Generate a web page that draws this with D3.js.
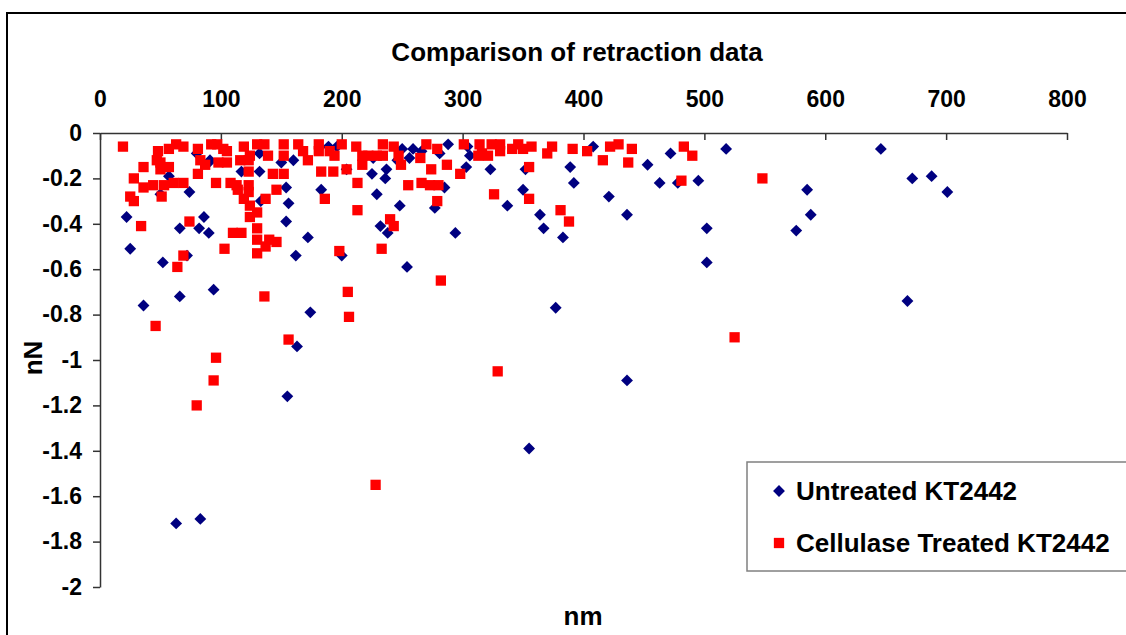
<!DOCTYPE html>
<html>
<head>
<meta charset="utf-8">
<script src="https://cdn.jsdelivr.net/npm/d3@7"></script>
<style>
  body { margin: 0; background: #fff; }
  text { font-family: "Liberation Sans", Arial, sans-serif; font-weight: bold; fill: #000; }
</style>
</head>
<body>
<div id="chart-area"></div>
<script>
// tick labels
const xTicks = [0, 100, 200, 300, 400, 500, 600, 700, 800];
const yTicks = [0, -0.2, -0.4, -0.6, -0.8, -1, -1.2, -1.4, -1.6, -1.8, -2];
const seriesNames = ["Untreated KT2442", "Cellulase Treated KT2442"];

// [nm, nN]
const untreated = [
  [22,-0.37],[25,-0.51],[36,-0.76],[50,-0.27],[52,-0.57],[57,-0.19],[66,-0.42],[66,-0.72],
  [72,-0.54],[74,-0.26],[80,-0.09],[82,-0.42],[86,-0.37],[90,-0.44],[90,-0.13],[94,-0.69],
  [63,-1.72],[83,-1.70],[117,-0.17],[132,-0.17],[132,-0.09],[133,-0.30],[150,-0.13],[154,-0.24],
  [156,-0.31],[154,-0.39],[155,-1.16],[163,-0.94],[160,-0.12],[162,-0.54],[172,-0.46],[174,-0.79],
  [183,-0.25],[189,-0.06],[196,-0.06],[204,-0.16],[225,-0.18],[226,-0.11],[229,-0.27],[232,-0.41],
  [237,-0.16],[236,-0.20],[238,-0.44],[246,-0.12],[250,-0.07],[248,-0.32],[254,-0.59],[256,-0.11],
  [259,-0.07],[266,-0.08],[200,-0.54],[277,-0.33],[281,-0.09],[285,-0.24],[288,-0.05],[294,-0.44],
  [304,-0.06],[303,-0.15],[306,-0.10],[323,-0.16],[337,-0.32],[350,-0.25],[352,-0.16],[355,-1.39],
  [364,-0.36],[367,-0.42],[377,-0.77],[383,-0.46],[389,-0.15],[392,-0.22],[408,-0.06],[421,-0.28],
  [436,-0.36],[436,-1.09],[453,-0.14],[463,-0.22],[472,-0.09],[478,-0.22],[495,-0.21],[502,-0.42],
  [502,-0.57],[518,-0.07],[576,-0.43],[585,-0.25],[588,-0.36],[646,-0.07],[668,-0.74],[672,-0.20],
  [688,-0.19],[701,-0.26],[91,-0.12]
];

const cellulase = [
  [19,-0.06],[36,-0.15],[28,-0.20],[25,-0.28],[28,-0.30],[36,-0.24],[44,-0.23],[34,-0.41],
  [48,-0.08],[50,-0.13],[50,-0.16],[57,-0.07],[57,-0.15],[63,-0.05],[69,-0.06],[53,-0.23],
  [61,-0.22],[69,-0.22],[51,-0.28],[74,-0.39],[69,-0.54],[64,-0.59],[81,-0.07],[83,-0.12],
  [81,-0.18],[87,-0.14],[92,-0.05],[97,-0.05],[102,-0.07],[98,-0.13],[105,-0.13],[96,-0.22],
  [105,-0.08],[108,-0.22],[113,-0.23],[116,-0.12],[123,-0.12],[119,-0.06],[114,-0.25],[123,-0.23],
  [123,-0.26],[119,-0.29],[124,-0.32],[124,-0.37],[130,-0.35],[130,-0.05],[136,-0.05],[124,-0.10],
  [139,-0.10],[123,-0.17],[143,-0.18],[146,-0.25],[137,-0.29],[152,-0.05],[152,-0.10],[152,-0.18],
  [110,-0.44],[117,-0.44],[103,-0.51],[130,-0.42],[130,-0.47],[140,-0.47],[146,-0.48],[137,-0.50],
  [130,-0.53],[164,-0.05],[168,-0.08],[172,-0.12],[181,-0.05],[181,-0.08],[190,-0.08],[194,-0.10],
  [200,-0.05],[183,-0.17],[193,-0.17],[204,-0.16],[212,-0.06],[217,-0.10],[217,-0.14],[222,-0.10],
  [229,-0.10],[234,-0.05],[243,-0.06],[234,-0.10],[247,-0.10],[249,-0.14],[213,-0.22],[186,-0.29],
  [213,-0.34],[255,-0.23],[265,-0.11],[270,-0.05],[279,-0.07],[274,-0.16],[266,-0.22],[273,-0.23],
  [280,-0.23],[287,-0.14],[298,-0.18],[301,-0.05],[313,-0.10],[279,-0.30],[240,-0.38],[243,-0.41],
  [198,-0.52],[233,-0.51],[314,-0.05],[316,-0.09],[321,-0.10],[324,-0.05],[331,-0.05],[331,-0.08],
  [341,-0.07],[346,-0.05],[350,-0.07],[357,-0.06],[370,-0.09],[374,-0.06],[391,-0.07],[403,-0.08],
  [416,-0.12],[422,-0.06],[429,-0.05],[440,-0.07],[437,-0.13],[355,-0.15],[326,-0.27],[355,-0.29],
  [381,-0.34],[388,-0.39],[483,-0.06],[490,-0.10],[481,-0.21],[548,-0.20],[136,-0.72],[46,-0.85],
  [156,-0.91],[96,-0.99],[94,-1.09],[80,-1.20],[282,-0.65],[205,-0.70],[206,-0.81],[525,-0.90],
  [329,-1.05],[228,-1.55],[47,-0.12]
];

const width = 1126, height = 635;
const svg = d3.select("#chart-area").append("svg")
  .attr("width", width)
  .attr("height", height);

// outer frame (runs off the right/bottom edge like the original)
svg.append("rect")
  .attr("x", 7).attr("y", 13)
  .attr("width", 1135).attr("height", 640)
  .attr("fill", "none")
  .attr("stroke", "#000")
  .attr("stroke-width", 2);

const x = d3.scaleLinear().domain([0, 800]).range([100, 1067]);
const y = d3.scaleLinear().domain([-2, 0]).range([587, 133]);

// title
svg.append("text")
  .attr("x", 577).attr("y", 61)
  .attr("text-anchor", "middle")
  .style("font-size", "26px")
  .text("Comparison of retraction data");

// x axis sits on top, ticks point down into the plot
const xAxis = svg.append("g")
  .attr("transform", "translate(0," + y(0) + ")")
  .call(d3.axisTop(x).tickValues(xTicks).tickSizeInner(-7).tickSizeOuter(0).tickPadding(26).tickFormat(d => d));

const yAxis = svg.append("g")
  .attr("transform", "translate(" + x(0) + ",0)")
  .call(d3.axisLeft(y).tickValues(yTicks).tickSizeInner(7).tickSizeOuter(0).tickPadding(11)
    .tickFormat(d => String(+d.toFixed(1))));

[xAxis, yAxis].forEach(a => {
  a.select(".domain").attr("stroke", "#333").attr("stroke-width", 1.5);
  a.selectAll(".tick line").attr("stroke", "#333").attr("stroke-width", 1.5);
  a.selectAll(".tick text")
    .style("font-size", "23px")
    .style("font-family", "'Liberation Sans', Arial, sans-serif")
    .style("font-weight", "bold")
    .attr("fill", "#000");
});

// axis titles
svg.append("text")
  .attr("transform", "translate(42,358) rotate(-90)")
  .attr("text-anchor", "middle")
  .style("font-size", "26px")
  .text("nN");

svg.append("text")
  .attr("x", 583).attr("y", 625)
  .attr("text-anchor", "middle")
  .style("font-size", "26px")
  .text("nm");

const diamond = d3.symbol().type(d3.symbolSquare).size(70);
const square = d3.symbol().type(d3.symbolSquare).size(106);

// untreated first, cellulase on top
svg.append("g").selectAll("path")
  .data(untreated)
  .enter()
  .append("path")
  .attr("d", diamond)
  .attr("transform", d => "translate(" + x(d[0]) + "," + y(d[1]) + ") rotate(45)")
  .attr("fill", "#000080");

svg.append("g").selectAll("path")
  .data(cellulase)
  .enter()
  .append("path")
  .attr("d", square)
  .attr("transform", d => "translate(" + x(d[0]) + "," + y(d[1]) + ")")
  .attr("fill", "#ff0000");

// legend
const legend = svg.append("g");
legend.append("rect")
  .attr("x", 747).attr("y", 462)
  .attr("width", 400).attr("height", 109)
  .attr("fill", "#fff")
  .attr("stroke", "#808080")
  .attr("stroke-width", 1.5);

seriesNames.forEach(function (name, i) {
  const row = legend.append("g")
    .attr("transform", "translate(779," + (491 + i * 52) + ")");
  if (i === 0) {
    row.append("path").attr("d", diamond).attr("transform", "rotate(45)").attr("fill", "#000080");
  } else {
    row.append("path").attr("d", square).attr("fill", "#ff0000");
  }
  row.append("text")
    .attr("x", 17).attr("y", 9)
    .style("font-size", "26px")
    .text(name);
});
</script>
</body>
</html>
